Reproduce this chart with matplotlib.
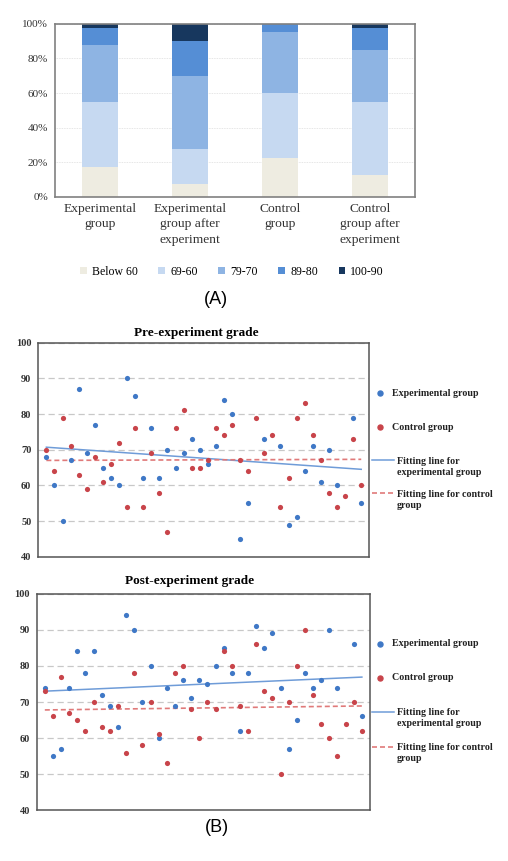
import numpy as np
import matplotlib
matplotlib.use("Agg")
import matplotlib.pyplot as plt
from matplotlib.patches import Patch
from matplotlib.lines import Line2D

nan = np.nan

# ---------------- data : panel A ----------------
categories = ["Experimental\ngroup", "Experimental\ngroup after\nexperiment",
              "Control\ngroup", "Control\ngroup after\nexperiment"]
grade_bands = ["Below 60", "69-60", "79-70", "89-80", "100-90"]
share_below60 = [17.5, 7.5, 22.5, 12.5]
share_60_69 = [37.5, 20.0, 37.5, 42.5]
share_70_79 = [32.5, 42.5, 35.0, 30.0]
share_80_89 = [10.0, 20.0, 5.0, 12.5]
share_90_100 = [2.5, 10.0, 0.0, 2.5]
pct_ticks = [0, 20, 40, 60, 80, 100]

# ---------------- data : panel B ----------------
students = list(range(1, 41))
grade_ticks = [40, 50, 60, 70, 80, 90, 100]

pre_exp = [68, 60, 50, 67, 87, 69, 77, 65, 62, 60, 90, 85, 62, 76, 62, 70, 65, 69, 73, 70,
           66, 71, 84, 80, 45, 55, nan, 73, nan, 71, 49, 51, 64, 71, 61, 70, 60, nan, 79, 55]
pre_ctrl = [70, 64, 79, 71, 63, 59, 68, 61, 66, 72, 54, 76, 54, 69, 58, 47, 76, 81, 65, 65,
            67, 76, 74, 77, 67, 64, 79, 69, 74, 54, 62, 79, 83, 74, 67, 58, 54, 57, 73, 60]
post_exp = [74, 55, 57, 74, 84, 78, 84, 72, 69, 63, 94, 90, 70, 80, 60, 74, 69, 76, 71, 76,
            75, 80, 85, 78, 62, 78, 91, 85, 89, 74, 57, 65, 78, 74, 76, 90, 74, nan, 86, 66]
post_ctrl = [73, 66, 77, 67, 65, 62, 70, 63, 62, 69, 56, 78, 58, 70, 61, 53, 78, 80, 68, 60,
             70, 68, 84, 80, 69, 62, 86, 73, 71, 50, 70, 80, 90, 72, 64, 60, 55, 64, 70, 62]
# fitted values at the first and the last student
pre_exp_fit = [70.7, 64.5]
pre_ctrl_fit = [67.0, 67.3]
post_exp_fit = [73.0, 76.9]
post_ctrl_fit = [67.8, 68.9]

# ---------------- styling ----------------
W, H = 508, 861
SERIF = "Liberation Serif"
SANS = "Liberation Sans"
band_colors = ["#EEECE1", "#C6D9F1", "#8EB4E3", "#558ED5", "#17375E"]
BLUE = "#3F78C6"
RED = "#C8444A"
BLUE_FIT = "#6F9CD8"
RED_FIT = "#E07A7A"


def fx(px):
    return px / W


def fy(py):
    return 1 - py / H


fig = plt.figure(figsize=(W / 100, H / 100), dpi=100)

# ================= Panel A =================
ax1 = fig.add_axes([fx(55), fy(197), 360 / W, 173.3 / H])
series = [share_below60, share_60_69, share_70_79, share_80_89, share_90_100]
x = np.arange(len(categories))
bottom = np.zeros(len(categories))
for vals, col, lab in zip(series, band_colors, grade_bands):
    ax1.bar(x, vals, width=0.4, bottom=bottom, color=col, label=lab, zorder=2)
    bottom += np.array(vals)
ax1.set_xlim(-0.5, 3.5)
ax1.set_ylim(0, 100)
ax1.set_yticks(pct_ticks)
ax1.set_yticklabels([f"{v}%" for v in pct_ticks], fontfamily=SERIF, fontsize=8, color="#333333")
ax1.set_xticks(x)
ax1.set_xticklabels(categories, fontfamily=SERIF, fontsize=9.7, color="#333333", linespacing=1.4)
ax1.tick_params(axis="both", length=0)
ax1.tick_params(axis="y", pad=5)
ax1.tick_params(axis="x", pad=4)
ax1.grid(axis="y", color="#DDDDDD", lw=0.6, ls=(0, (1, 1)), zorder=0)
ax1.set_axisbelow(True)
for sp in ax1.spines.values():
    sp.set_color("#808080")
    sp.set_linewidth(1.2)

handles = [Patch(facecolor=c, edgecolor="none") for c in band_colors]
fig.legend(handles, grade_bands, loc="center", bbox_to_anchor=(fx(232), fy(272)), ncol=5,
           frameon=False, prop={"family": SERIF, "size": 8.5}, handlelength=0.55,
           handleheight=0.55, handletextpad=0.45, columnspacing=1.75, borderpad=0)

fig.text(fx(216), fy(299), "(A)", fontfamily=SANS, fontsize=13, ha="center", va="center")


# ================= Panel B =================
def scatter_panel(rect, exp, ctrl, exp_fit, ctrl_fit, title, title_xy, leg_y):
    ax = fig.add_axes(rect)
    ax.set_xlim(0, 41)
    ax.set_ylim(40, 100)
    ax.set_yticks(grade_ticks)
    ax.set_yticklabels([str(v) for v in grade_ticks], fontfamily=SERIF, fontsize=7.5,
                       fontweight="bold", color="#333333")
    ax.set_xticks([])
    ax.tick_params(axis="y", length=0, pad=5)
    ax.grid(axis="y", color="#C8C8C8", lw=0.9, ls=(0, (5, 3)), zorder=0)
    ax.set_axisbelow(True)
    for sp in ax.spines.values():
        sp.set_color("#555555")
        sp.set_linewidth(1.1)
    ax.scatter(students, exp, s=14, color=BLUE, linewidths=0, zorder=3)
    ax.scatter(students, ctrl, s=14, color=RED, linewidths=0, zorder=3)
    ends = [students[0], students[-1]]
    ax.plot(ends, exp_fit, color=BLUE_FIT, lw=1.1, zorder=2)
    ax.plot(ends, ctrl_fit, color=RED_FIT, lw=1.2, ls=(0, (3, 1.8)), zorder=2)

    fig.text(fx(title_xy[0]), fy(title_xy[1]), title, fontfamily=SERIF, fontsize=9.5,
             fontweight="bold", ha="center", va="center")

    tprops = dict(fontfamily=SERIF, fontsize=7.2, fontweight="bold", color="#222222",
                  va="center", ha="left", linespacing=1.3)
    # legend entries
    fig.add_artist(Line2D([fx(380)], [fy(leg_y[0])], marker="o", ms=3.6, color=BLUE,
                          transform=fig.transFigure, lw=0))
    fig.text(fx(392), fy(leg_y[0]), "Experimental group", **tprops)
    fig.add_artist(Line2D([fx(380)], [fy(leg_y[1])], marker="o", ms=3.6, color=RED,
                          transform=fig.transFigure, lw=0))
    fig.text(fx(392), fy(leg_y[1]), "Control group", **tprops)
    fig.add_artist(Line2D([fx(372), fx(394)], [fy(leg_y[2]), fy(leg_y[2])], color=BLUE_FIT,
                          lw=1.1, transform=fig.transFigure))
    fig.text(fx(397), fy(leg_y[2] + 6.7), "Fitting line for\nexperimental group", **tprops)
    fig.add_artist(Line2D([fx(372), fx(394)], [fy(leg_y[3]), fy(leg_y[3])], color=RED_FIT,
                          lw=1.2, ls=(0, (3, 1.8)), transform=fig.transFigure))
    fig.text(fx(397), fy(leg_y[3] + 6.7), "Fitting line for control\ngroup", **tprops)
    return ax


scatter_panel([fx(38.3), fy(556.7), 331 / W, 214 / H], pre_exp, pre_ctrl, pre_exp_fit,
              pre_ctrl_fit, "Pre-experiment grade", (196.7, 333.3),
              [393.3, 427.3, 460.0, 493.3])
scatter_panel([fx(36.7), fy(810.3), 333.3 / W, 216.6 / H], post_exp, post_ctrl, post_exp_fit,
              post_ctrl_fit, "Post-experiment grade", (189.7, 581),
              [644.0, 677.7, 711.7, 746.7])

fig.text(fx(216.5), fy(827), "(B)", fontfamily=SANS, fontsize=13, ha="center", va="center")

fig.savefig("out.png", dpi=100)
